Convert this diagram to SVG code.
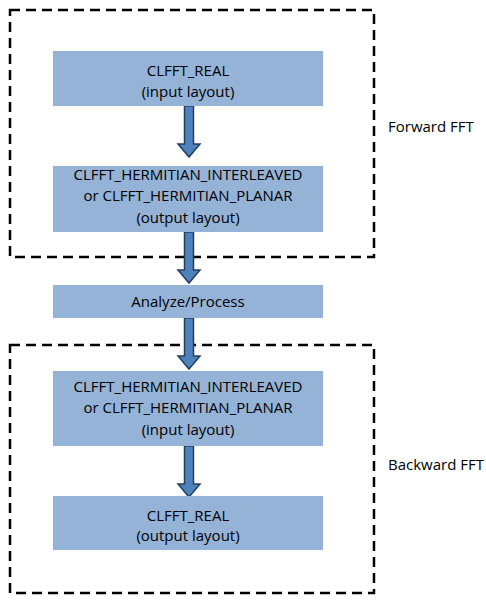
<svg xmlns="http://www.w3.org/2000/svg" width="486" height="603" viewBox="0 0 486 603">
<defs>
<style>
.frame{fill:none;stroke:#000;stroke-width:2.5;stroke-dasharray:10 6}
.box{fill:#95B3D7}
.t{font-family:"Open Sans","Liberation Sans",sans-serif;font-size:15px;fill:#000;text-anchor:middle}
.lbl{font-family:"Open Sans","Liberation Sans",sans-serif;font-size:15px;fill:#000}
.arr{fill:#4F81BD;stroke:#243F60;stroke-width:1.5;stroke-linejoin:miter}
</style>
</defs>
<rect width="486" height="603" fill="#fff"/>
<g id="forward-frame"><rect class="frame" x="10" y="10" width="364" height="247"/><text class="lbl" x="388" y="132">Forward FFT</text></g>
<g id="backward-frame"><rect class="frame" x="10" y="345" width="364" height="248"/><text class="lbl" x="388" y="470">Backward FFT</text></g>
<g id="connectors">
<path class="arr" d="M184.5,106 h9 v38 h6.5 l-11,13 l-11,-13 h6.5 z"/>
<path class="arr" d="M184.5,232 h9 v38 h6.5 l-11,13 l-11,-13 h6.5 z"/>
<path class="arr" d="M184.5,318 h9 v38 h6.5 l-11,13 l-11,-13 h6.5 z"/>
<path class="arr" d="M184.5,446 h9 v38 h6.5 l-11,13 l-11,-13 h6.5 z"/>
</g>
<g id="n1"><rect class="box" x="53" y="51" width="270" height="55"/><text class="t" x="188" y="76">CLFFT_REAL</text><text class="t" x="188" y="97">(input layout)</text></g>
<g id="n2"><rect class="box" x="53" y="166" width="270" height="66"/><text class="t" x="188" y="180">CLFFT_HERMITIAN_INTERLEAVED</text><text class="t" x="188" y="201">or CLFFT_HERMITIAN_PLANAR</text><text class="t" x="188" y="223">(output layout)</text></g>
<g id="n3"><rect class="box" x="53" y="285" width="270" height="33"/><text class="t" x="188" y="307">Analyze/Process</text></g>
<g id="n4"><rect class="box" x="53" y="371" width="270" height="75"/><text class="t" x="188" y="392">CLFFT_HERMITIAN_INTERLEAVED</text><text class="t" x="188" y="413">or CLFFT_HERMITIAN_PLANAR</text><text class="t" x="188" y="435">(input layout)</text></g>
<g id="n5"><rect class="box" x="53" y="496" width="270" height="54"/><text class="t" x="188" y="521">CLFFT_REAL</text><text class="t" x="188" y="541">(output layout)</text></g>
</svg>
